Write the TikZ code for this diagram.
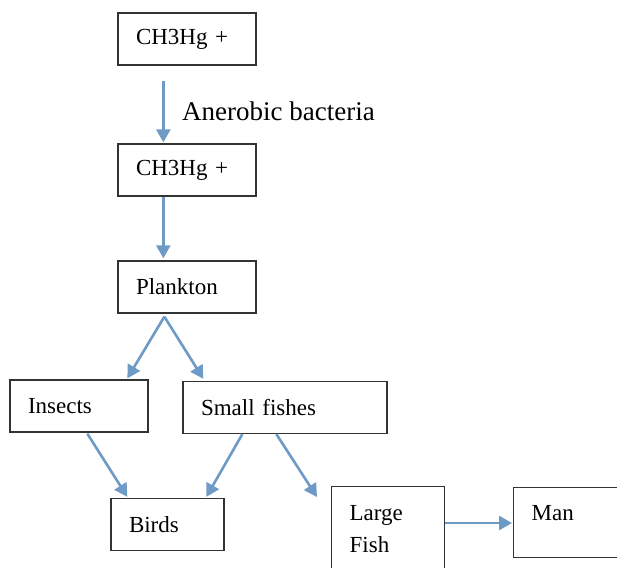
\documentclass[tikz,border=0pt]{standalone}
\usepackage{fontspec}
\setmainfont{Liberation Serif}
\usetikzlibrary{arrows.meta,positioning}
\definecolor{flowblue}{RGB}{110,154,198}
\tikzset{
  stagebox/.style={
    draw=black!80,
    line width=1.3pt,
    minimum height=52pt,
    inner xsep=18pt,
    inner ysep=0pt,
    align=left,
    font=\fontsize{23}{32}\selectfont
  },
  flowarrow/.style={
    -{Triangle[length=13pt,width=14pt]},
    line width=2.6pt,
    color=flowblue
  }
}
\begin{document}
\begin{tikzpicture}[x=1pt,y=-1pt]
\useasboundingbox (0,0) rectangle (617,567);
\clip (0,0) rectangle (617,567);
\node[stagebox, minimum width=138pt, text width=102pt] (ion1) at (187,39) {CH3Hg +};
\node[stagebox, minimum width=138pt, text width=102pt] (ion2) at (187,170) {CH3Hg +};
\node[stagebox, minimum width=138pt, text width=102pt] (plank) at (187,287) {Plankton};
\node[stagebox, minimum width=138pt, text width=102pt] (insect) at (79,406) {Insects};
\node[stagebox, minimum width=204pt, text width=168pt] (small) at (285,407.5) {Small fishes};
\node[stagebox, minimum width=113pt, text width=77pt] (bird) at (167.5,524.5) {Birds};
\node[stagebox, minimum width=113pt, text width=77pt, text height=34pt, text depth=70pt, anchor=north west] (large) at (331,486) {Large\\Fish};
\node[stagebox, minimum width=112pt, text width=76pt, text height=33pt, text depth=37pt, anchor=north west] (man) at (513,487) {Man};
\node[anchor=base west, inner sep=0pt, font=\fontsize{27}{32}\selectfont] (bact) at (182,120) {Anerobic bacteria};
\draw[flowarrow] ([xshift=46pt,yshift=-15pt]ion1.south west) -- ([xshift=46pt,yshift=1pt]ion2.north west);
\draw[flowarrow] ([xshift=46pt]ion2.south west) -- ([xshift=46pt,yshift=2pt]plank.north west);
\draw[flowarrow] ([xshift=47pt,yshift=-3pt]plank.south west) -- ([xshift=118pt,yshift=1pt]insect.north west);
\draw[flowarrow] ([xshift=47pt,yshift=-3pt]plank.south west) -- ([xshift=21pt,yshift=2pt]small.north west);
\draw[flowarrow] ([xshift=78pt,yshift=-1pt]insect.south west) -- ([xshift=17pt,yshift=1pt]bird.north west);
\draw[flowarrow] ([xshift=60pt]small.south west) -- ([xshift=96pt,yshift=1pt]bird.north west);
\draw[flowarrow] ([xshift=94pt]small.south west) -- ([xshift=-14pt,yshift=-11pt]large.north west);
\draw[flowarrow] ([yshift=-37pt]large.north east) -- ([xshift=-1pt,yshift=-36pt]man.north west);
\end{tikzpicture}
\end{document}
